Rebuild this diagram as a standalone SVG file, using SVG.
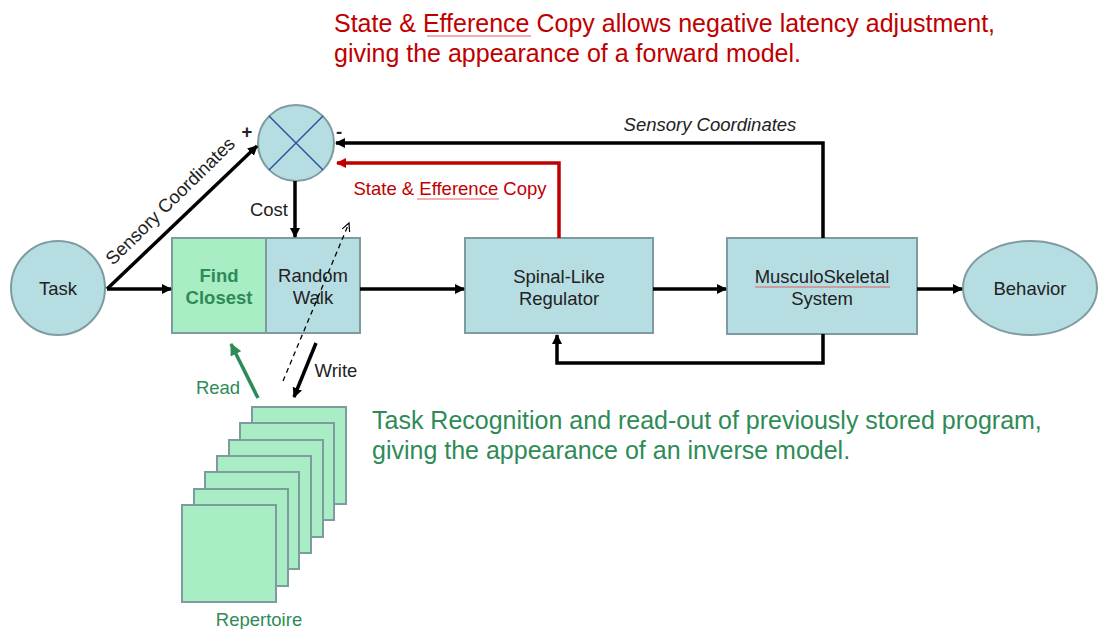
<svg xmlns="http://www.w3.org/2000/svg" width="1102" height="629" viewBox="0 0 1102 629">
  <defs>
    <marker id="ah" markerWidth="10" markerHeight="10" refX="9" refY="5" orient="auto" markerUnits="userSpaceOnUse">
      <path d="M0,0 L10,5 L0,10 Z" fill="#000"/>
    </marker>
    <marker id="ahRed" markerWidth="10" markerHeight="10" refX="9" refY="5" orient="auto" markerUnits="userSpaceOnUse">
      <path d="M0,0 L10,5 L0,10 Z" fill="#c00000"/>
    </marker>
    <marker id="ahGreen" markerWidth="12" markerHeight="12" refX="11" refY="6" orient="auto" markerUnits="userSpaceOnUse">
      <path d="M0,0 L12,6 L0,12 Z" fill="#2e8b57"/>
    </marker>
    <marker id="ahOpen" markerWidth="10" markerHeight="10" refX="9" refY="5" orient="auto" markerUnits="userSpaceOnUse">
      <path d="M1,1 L9,5 L1,9" fill="none" stroke="#000" stroke-width="1.2"/>
    </marker>
    <style>
      .box { fill: #b5dde2; stroke: #7e9ca0; stroke-width: 2; }
      .gbox { fill: #a8edc3; stroke: #7e9ca0; stroke-width: 2; }
      .lbl { font-family: "Liberation Sans", Arial, sans-serif; font-size: 18.5px; fill: #222; text-anchor: middle; }
      .wire { fill: none; stroke: #000; stroke-width: 3.5; }
      .red { fill: #c00000; }
      .green { fill: #2e8b57; }
      .note { font-family: "Liberation Sans", Arial, sans-serif; font-size: 25px; }
      .squig { stroke: #e06060; stroke-width: 1; fill: none; }
    </style>
  </defs>

  <!-- captions -->
  <g id="caption-forward" class="note red">
    <text x="334" y="32">State &amp; Efference Copy allows negative latency adjustment,</text>
    <text x="334" y="62">giving the appearance of a forward model.</text>
    <line class="squig" x1="427" y1="36" x2="531" y2="36"/>
  </g>
  <g id="caption-inverse" class="note green">
    <text x="372" y="429">Task Recognition and read-out of previously stored program,</text>
    <text x="372" y="459">giving the appearance of an inverse model.</text>
  </g>

  <!-- nodes -->
  <g id="task">
    <circle class="box" cx="58" cy="288" r="47"/>
    <text class="lbl" x="58" y="295">Task</text>
  </g>

  <g id="comparator">
    <circle class="box" cx="296" cy="143" r="38"/>
    <line x1="269" y1="116" x2="323" y2="170" stroke="#2f4f9f" stroke-width="1.5"/>
    <line x1="323" y1="116" x2="269" y2="170" stroke="#2f4f9f" stroke-width="1.5"/>
  </g>

  <g id="find-closest">
    <rect class="gbox" x="172" y="238" width="94" height="95"/>
    <text class="lbl green" x="219" y="282" font-weight="bold">Find</text>
    <text class="lbl green" x="219" y="304" font-weight="bold">Closest</text>
  </g>

  <g id="random-walk">
    <rect class="box" x="266" y="238" width="94" height="95"/>
    <text class="lbl" x="313" y="282">Random</text>
    <text class="lbl" x="313" y="304">Walk</text>
  </g>

  <g id="spinal-regulator">
    <rect class="box" x="465" y="238" width="188" height="95"/>
    <text class="lbl" x="559" y="283">Spinal-Like</text>
    <text class="lbl" x="559" y="305">Regulator</text>
  </g>

  <g id="musculoskeletal">
    <rect class="box" x="727" y="238" width="190" height="96"/>
    <text class="lbl" x="822" y="283">MusculoSkeletal</text>
    <line class="squig" x1="755" y1="287" x2="890" y2="287"/>
    <text class="lbl" x="822" y="305">System</text>
  </g>

  <g id="behavior">
    <ellipse class="box" cx="1030" cy="288" rx="67" ry="47"/>
    <text class="lbl" x="1030" y="295">Behavior</text>
  </g>

  <g id="repertoire">
    <rect class="gbox" x="252" y="407" width="94" height="97"/>
    <rect class="gbox" x="240" y="423" width="94" height="97"/>
    <rect class="gbox" x="229" y="440" width="94" height="97"/>
    <rect class="gbox" x="217" y="456" width="94" height="97"/>
    <rect class="gbox" x="205" y="472" width="94" height="97"/>
    <rect class="gbox" x="194" y="489" width="94" height="97"/>
    <rect class="gbox" x="182" y="505" width="94" height="97"/>
    <text class="lbl green" x="259" y="626" font-size="17">Repertoire</text>
  </g>

  <!-- connectors -->
  <g id="connectors">
    <line class="wire" x1="107" y1="289" x2="171" y2="289" marker-end="url(#ah)"/>
    <line class="wire" x1="107" y1="289" x2="257" y2="146" marker-end="url(#ah)"/>
    <line class="wire" x1="295" y1="181" x2="295" y2="237" marker-end="url(#ah)"/>
    <line class="wire" x1="360" y1="289" x2="464" y2="289" marker-end="url(#ah)"/>
    <line class="wire" x1="653" y1="289" x2="726" y2="289" marker-end="url(#ah)"/>
    <line class="wire" x1="917" y1="289" x2="962" y2="289" marker-end="url(#ah)"/>
    <path class="wire" d="M823,238 V143 H336" marker-end="url(#ah)"/>
    <path class="wire" d="M823,334 V363 H557 V335" marker-end="url(#ah)"/>
    <path d="M559,238 V163 H337" fill="none" stroke="#c00000" stroke-width="3.5" marker-end="url(#ahRed)"/>
    <line x1="283" y1="381" x2="349" y2="223" stroke="#000" stroke-width="1.3" stroke-dasharray="5,4" marker-end="url(#ahOpen)"/>
    <line class="wire" x1="316" y1="343" x2="294" y2="397" marker-end="url(#ah)"/>
    <line x1="258" y1="398" x2="231" y2="344" stroke="#2e8b57" stroke-width="3.5" marker-end="url(#ahGreen)"/>

    <text class="lbl" x="0" y="0" font-size="19.5" style="text-anchor:start" transform="translate(113,266) rotate(-44.5)">Sensory Coordinates</text>
    <text class="lbl" x="247" y="138" font-size="22" font-weight="bold">+</text>
    <text class="lbl" x="339" y="138" font-size="22" font-weight="bold">-</text>
    <text class="lbl" x="269" y="216" font-size="17">Cost</text>
    <text class="lbl" x="710" y="131" font-style="italic">Sensory Coordinates</text>
    <text class="lbl red" x="450" y="195">State &amp; Efference Copy</text>
    <line class="squig" x1="417" y1="199" x2="499" y2="199"/>
    <text class="lbl" x="336" y="377" font-size="17">Write</text>
    <text class="lbl green" x="218" y="394" font-size="17">Read</text>
  </g>
</svg>
